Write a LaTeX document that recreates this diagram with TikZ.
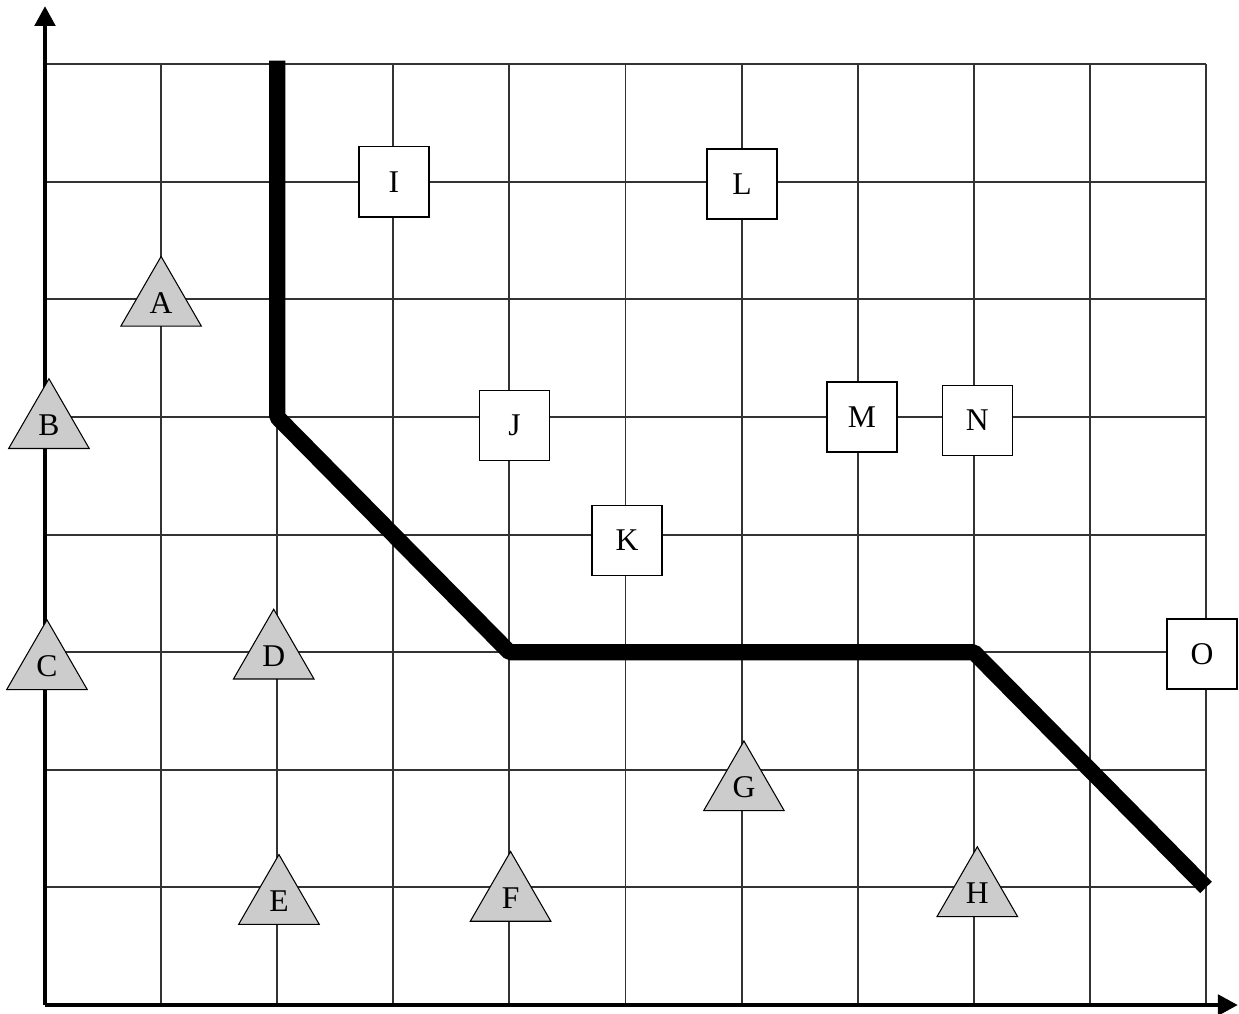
\documentclass[tikz,border=0pt]{standalone}
\usepackage{fontspec}
\setmainfont{Liberation Serif}
\usetikzlibrary{shapes.geometric, arrows.meta}

\begin{document}
\begin{tikzpicture}[
    x=2.322cm, y=2.352cm,
    label font/.style={font=\fontsize{18}{20}\selectfont},
    tri/.style={regular polygon, regular polygon sides=3, draw, fill=black!20,
                line width=0.6pt, minimum size=1.86cm, inner sep=0pt, label font},
    box/.style={rectangle, draw, fill=white, line width=0.8pt,
                minimum size=1.4cm, inner sep=0pt, label font},
    gridline/.style={line width=1.1pt, black!80},
    axis/.style={line width=2.8pt, -{Triangle[length=0.4cm, width=0.4cm]}},
    route/.style={line width=9.2pt, line join=bevel}
]
  \useasboundingbox (-0.3876,-0.068) rectangle (10.284,8.546);

  % --- GRID ---
  \foreach \i in {1,...,10}
    \draw[gridline] (\i,0) -- (\i,8);
  \foreach \j in {1,...,8}
    \draw[gridline] (0,\j) -- (10,\j);

  % --- AXES ---
  \coordinate (origin) at (0,0);
  \coordinate (ytip) at (0,8.495);
  \coordinate (xtip) at (10.275,0);
  \draw[axis] (origin) -- (ytip);
  \draw[axis] (origin) -- (xtip);

  % --- ROUTE ---
  \coordinate (r1) at (2,8.03);
  \coordinate (r2) at (2,5);
  \coordinate (r3) at (4,3);
  \coordinate (r4) at (8,3);
  \coordinate (r5) at (10,1);
  \draw[route] (r1) -- (r2) -- (r3) -- (r4) -- (r5);

  % --- TRIANGLES ---
  \node[tri] (A) at (1.0,5.97) {A};
  \node[tri] (B) at (0.034,4.93) {B};
  \node[tri] (C) at (0.017,2.88) {C};
  \node[tri] (D) at (1.97,2.97) {D};
  \node[tri] (E) at (2.015,0.884) {E};
  \node[tri] (F) at (4.01,0.91) {F};
  \node[tri] (G) at (6.02,1.85) {G};
  \node[tri] (H) at (8.03,0.95) {H};

  % --- BOXES ---
  \node[box] (I) at (3.006,7.0) {I};
  \node[box] (J) at (4.044,4.93) {J};
  \node[box] (K) at (5.013,3.95) {K};
  \node[box] (L) at (6.003,6.98) {L};
  \node[box] (M) at (7.037,5.0) {M};
  \node[box] (N) at (8.03,4.97) {N};
  \node[box] (O) at (9.966,2.985) {O};
\end{tikzpicture}
\end{document}
